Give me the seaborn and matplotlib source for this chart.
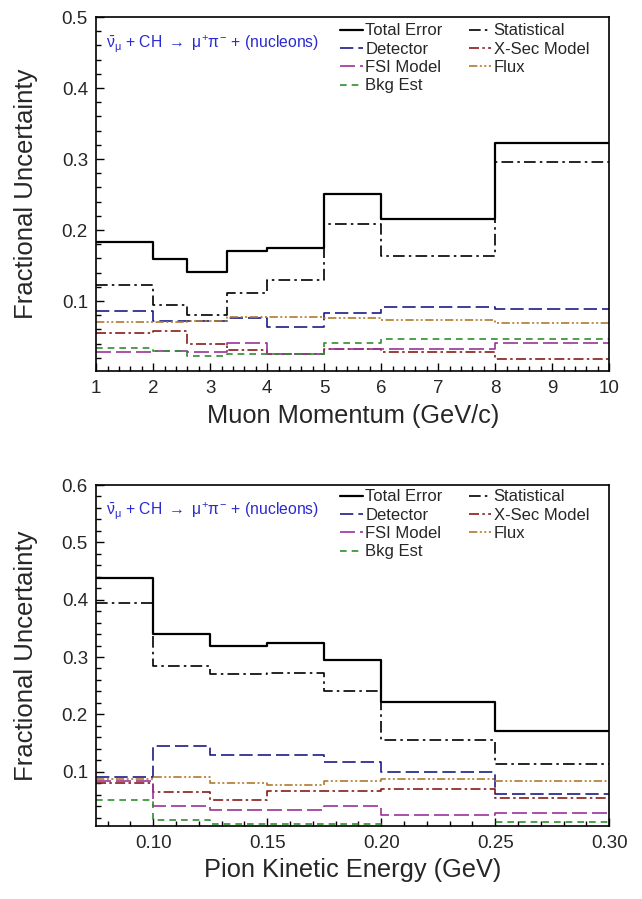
import numpy as np
import pandas as pd
import matplotlib
matplotlib.use("Agg")
import matplotlib.pyplot as plt
import seaborn as sns
from matplotlib.ticker import MultipleLocator, FixedLocator
from matplotlib.lines import Line2D

sns.set_theme(style="white")
plt.rcParams['font.family'] = ['Liberation Sans', 'DejaVu Sans']
plt.rcParams['mathtext.fontset'] = 'custom'
plt.rcParams['mathtext.rm'] = 'Liberation Sans'
plt.rcParams['mathtext.it'] = 'Liberation Sans'

# ---------------- data: muon momentum ----------------
mu_edges = [1, 2, 2.6, 3.3, 4, 5, 6, 8, 10]
mu_total = [0.183, 0.159, 0.141, 0.170, 0.175, 0.251, 0.216, 0.322]
mu_stat = [0.122, 0.094, 0.080, 0.111, 0.130, 0.209, 0.164, 0.296]
mu_detector = [0.086, 0.072, 0.072, 0.076, 0.064, 0.083, 0.091, 0.089]
mu_xsec = [0.055, 0.058, 0.039, 0.031, 0.026, 0.032, 0.028, 0.019]
mu_fsi = [0.028, 0.030, 0.028, 0.041, 0.025, 0.033, 0.033, 0.041]
mu_flux = [0.070, 0.070, 0.072, 0.077, 0.077, 0.076, 0.073, 0.069]
mu_bkg = [0.034, 0.030, 0.023, 0.026, 0.026, 0.041, 0.047, 0.047]

# ---------------- data: pion kinetic energy ----------------
pi_edges = [0.075, 0.10, 0.125, 0.15, 0.175, 0.20, 0.25, 0.30]
pi_total = [0.437, 0.340, 0.320, 0.324, 0.294, 0.221, 0.171]
pi_stat = [0.395, 0.285, 0.271, 0.273, 0.240, 0.155, 0.113]
pi_detector = [0.091, 0.145, 0.130, 0.130, 0.117, 0.100, 0.061]
pi_xsec = [0.080, 0.064, 0.051, 0.067, 0.067, 0.070, 0.054]
pi_fsi = [0.083, 0.041, 0.034, 0.034, 0.041, 0.025, 0.028]
pi_flux = [0.088, 0.090, 0.080, 0.077, 0.084, 0.088, 0.084]
pi_bkg = [0.051, 0.016, 0.009, 0.008, 0.009, 0.003, 0.013]

labels = ["Total Error", "Statistical", "Detector", "X-Sec Model",
          "FSI Model", "Flux", "Bkg Est"]
reaction = r"$\bar{\nu}_{\mu}$ + CH $\rightarrow$ $\mu^{+}\pi^{-}$ + (nucleons)"
xlabels = ["Muon Momentum (GeV/c)", "Pion Kinetic Energy (GeV)"]
ylabel = "Fractional Uncertainty"

styles = {
    "Total Error": dict(color="black", ls="-", lw=1.6),
    "Statistical": dict(color="black", ls=(0, (7, 2.5, 1.5, 2.5)), lw=1.2),
    "Detector": dict(color="#1c1c8a", ls=(0, (8, 3)), lw=1.2),
    "X-Sec Model": dict(color="#8a1a1a", ls=(0, (6, 2, 1.5, 2)), lw=1.2),
    "FSI Model": dict(color="#993399", ls=(0, (9, 3)), lw=1.2),
    "Flux": dict(color="#b07a30", ls=(0, (5, 1.5, 1.2, 1.5, 1.2, 1.5)), lw=1.2),
    "Bkg Est": dict(color="#2f8f2f", ls=(0, (4, 3)), lw=1.2),
}

fig = plt.figure(figsize=(6.42, 8.99), dpi=100)
ax1 = fig.add_axes([0.150, 0.587, 0.799, 0.394])
ax2 = fig.add_axes([0.150, 0.081, 0.799, 0.3795])

def draw(ax, edges, series):
    for name, vals in zip(labels, series):
        df = pd.DataFrame({"x": edges, "y": list(vals) + [vals[-1]]})
        st = styles[name]
        sns.lineplot(data=df, x="x", y="y", ax=ax, drawstyle="steps-post",
                     color=st["color"], linestyle=st["ls"], linewidth=st["lw"],
                     sort=False, estimator=None)

draw(ax1, mu_edges, [mu_total, mu_stat, mu_detector, mu_xsec, mu_fsi, mu_flux, mu_bkg])
draw(ax2, pi_edges, [pi_total, pi_stat, pi_detector, pi_xsec, pi_fsi, pi_flux, pi_bkg])

ax1.set_xlim(1, 10)
ax1.set_ylim(0.001, 0.5)
ax1.xaxis.set_major_locator(MultipleLocator(1))
ax1.xaxis.set_minor_locator(MultipleLocator(0.2))
ax1.yaxis.set_major_locator(FixedLocator([0.1, 0.2, 0.3, 0.4, 0.5]))
ax1.yaxis.set_minor_locator(MultipleLocator(0.02))
ax1.set_yticklabels(["0.1", "0.2", "0.3", "0.4", "0.5"])

ax2.set_xlim(0.075, 0.30)
ax2.set_ylim(0.005, 0.6)
ax2.xaxis.set_major_locator(FixedLocator([0.10, 0.15, 0.20, 0.25, 0.30]))
ax2.set_xticklabels(["0.10", "0.15", "0.20", "0.25", "0.30"])
ax2.xaxis.set_minor_locator(MultipleLocator(0.01))
ax2.yaxis.set_major_locator(FixedLocator([0.1, 0.2, 0.3, 0.4, 0.5, 0.6]))
ax2.set_yticklabels(["0.1", "0.2", "0.3", "0.4", "0.5", "0.6"])
ax2.yaxis.set_minor_locator(MultipleLocator(0.02))

order = ["Total Error", "Detector", "FSI Model", "Bkg Est",
         "Statistical", "X-Sec Model", "Flux"]

for ax, xl, ytop in [(ax1, xlabels[0], 0.982), (ax2, xlabels[1], 0.987)]:
    ax.set_xlabel(xl, fontsize=18.3, labelpad=5)
    ax.set_ylabel(ylabel, fontsize=18.5, labelpad=17)
    ax.tick_params(axis="both", which="both", direction="in", top=False,
                   right=False, bottom=True, left=True,
                   labelsize=13.5, color="black", width=1)
    ax.tick_params(axis="both", which="major", length=6, pad=6)
    ax.tick_params(axis="both", which="minor", length=3.5)
    for sp in ax.spines.values():
        sp.set_color("black")
        sp.set_linewidth(1.2)
    ax.text(0.018, 0.924, reaction, transform=ax.transAxes, color="#2a2ad0",
            fontsize=11.3, va="center", ha="left")
    handles = [Line2D([], [], color=styles[n]["color"], linestyle=styles[n]["ls"],
                      linewidth=styles[n]["lw"]) for n in order]
    ax.legend(handles, order, loc="upper left", bbox_to_anchor=(0.476, ytop),
              ncol=2, frameon=False, fontsize=12, handlelength=1.35,
              handletextpad=0.15, columnspacing=1.55, labelspacing=0.2,
              borderpad=0, borderaxespad=0)
    ax.set_facecolor("white")

fig.savefig("out.png", dpi=100, facecolor="white")
